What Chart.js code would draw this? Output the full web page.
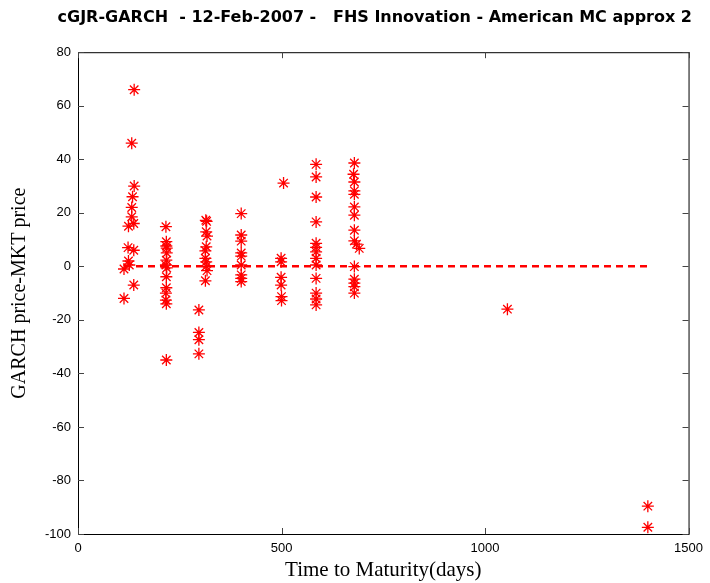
<!DOCTYPE html>
<html>
<head>
<meta charset="utf-8">
<script src="https://cdn.jsdelivr.net/npm/chart.js@4.4.1/dist/chart.umd.min.js"></script>
<style>
  body { margin: 0; background: #fff; }
  canvas { display: block; }
</style>
</head>
<body>
<canvas id="myChart" width="710" height="583"></canvas>
<script>
// time to maturity (days) and GARCH price - MKT price
let maturity = [
    113, 113, 123, 124, 124, 126, 132, 132, 132, 134, 137, 137, 137, 138, 138,
    216, 217, 217, 218, 218, 217, 216, 218, 217, 217, 216, 216, 217, 217,
    297, 297, 297, 297,
    314, 316, 315, 317, 315, 313, 313, 315, 315, 317, 313,
    401, 401, 401, 401, 401, 401, 401, 401, 401,
    505, 499, 499, 499, 499, 500, 500,
    585, 585, 585, 585, 585, 585, 585, 585, 585, 585, 585, 585, 585,
    679, 677, 679, 679, 679, 679, 679, 679, 679, 684, 691, 679, 679, 679, 679, 679,
    1055,
    1400, 1400
];
let priceDiff = [
    -12, -1, 7, 15, 2, 0.5, 46, 22, 18.5, 26, 16, 6, -7, 66, 30,
    14.8, 9.2, 7.6, 6.8, 5, 2.3, 0.5, -0.6, -3.9, -8, -10, -12.6, -14, -35,
    -16.3, -24.7, -27.4, -32.7,
    17.2, 16.8, 12.9, 11.3, 7.3, 5.8, 3, 1.7, 0, -1.6, -5.4,
    19.7, 11.7, 9.4, 5, 3.8, 0.5, -3.2, -4.5, -5.7,
    31.1, 3, 1.7, -4.1, -7, -11.3, -12.8,
    38.1, 33.4, 25.9, 16.6, 8.6, 7.1, 5.4, 3, 0.5, -4.5, -10, -12.2, -14.4,
    38.6, 34.4, 31.5, 28.2, 26.9, 22.2, 19.1, 13.5, 9.5, 8.3, 6.7, -0.1, -4.8, -6.3, -7.6, -10,
    -16,
    -89.6, -97.5
];
let xTicks = [0, 500, 1000, 1500];
let yTicks = [-100, -80, -60, -40, -20, 0, 20, 40, 60, 80];

function drawChart() {
    let ctx = document.getElementById('myChart').getContext('2d');
    let points = [];
    for (let i = 0; i < maturity.length; i++) {
        points.push({ x: maturity[i], y: priceDiff[i] });
    }
    // zero line across the maturities
    let zeroLine = [
        { x: Math.min(...maturity), y: 0 },
        { x: Math.max(...maturity), y: 0 }
    ];

    // matlab style box with inward ticks on all sides
    let boxPlugin = {
        id: 'box',
        afterDraw(chart) {
            let c = chart.ctx;
            let a = chart.chartArea;
            let xs = chart.scales.x, ys = chart.scales.y;
            c.save();
            c.strokeStyle = '#000';
            c.lineWidth = 1;
            c.strokeRect(a.left + 0.5, a.top + 0.5, a.right - a.left, a.bottom - a.top);
            c.strokeStyle = '#444';
            c.beginPath();
            xTicks.forEach(v => {
                let px = Math.round(xs.getPixelForValue(v)) + 0.5;
                c.moveTo(px, a.bottom); c.lineTo(px, a.bottom - 6);
                c.moveTo(px, a.top); c.lineTo(px, a.top + 6);
            });
            yTicks.forEach(v => {
                let py = Math.round(ys.getPixelForValue(v)) + 0.5;
                c.moveTo(a.left, py); c.lineTo(a.left + 6, py);
                c.moveTo(a.right, py); c.lineTo(a.right - 6, py);
            });
            c.stroke();
            c.restore();
        }
    };

    let config = {
        type: 'scatter',
        data: {
            datasets: [{
                label: 'zero',
                type: 'line',
                data: zeroLine,
                borderColor: '#ff0000',
                borderWidth: 2.5,
                borderDash: [7, 5],
                pointRadius: 0,
                fill: false
            }, {
                label: 'GARCH - MKT',
                data: points,
                pointStyle: 'star',
                pointRadius: 6,
                borderColor: '#ff0000',
                backgroundColor: '#ff0000',
                borderWidth: 1.3
            }]
        },
        options: {
            responsive: false,
            animation: false,
            layout: { padding: { left: 0, right: 18, top: 0, bottom: 0 } },
            plugins: {
                legend: { display: false },
                tooltip: { enabled: false },
                title: {
                    display: true,
                    text: 'cGJR-GARCH  - 12-Feb-2007 -   FHS Innovation - American MC approx 2',
                    align: 'end',
                    color: '#000',
                    font: { family: 'DejaVu Sans', size: 16, weight: 'bold' },
                    padding: { top: 8, bottom: 25 }
                }
            },
            scales: {
                x: {
                    type: 'linear',
                    min: 0,
                    max: 1500,
                    afterBuildTicks: s => { s.ticks = xTicks.map(v => ({ value: v })); },
                    afterFit: s => { s.height = 49; },
                    grid: { display: false, drawTicks: false },
                    border: { display: false },
                    ticks: {
                        color: '#000',
                        padding: 7,
                        maxRotation: 0,
                        font: { family: 'Liberation Sans', size: 13 },
                        callback: v => String(v)
                    },
                    title: {
                        display: true,
                        text: 'Time to Maturity(days)',
                        color: '#000',
                        font: { family: 'Liberation Serif', size: 21 },
                        padding: { top: 0, bottom: 0 }
                    }
                },
                y: {
                    type: 'linear',
                    min: -100,
                    max: 80,
                    afterBuildTicks: s => { s.ticks = yTicks.map(v => ({ value: v })); },
                    afterFit: s => { s.width = 78; },
                    grid: { display: false, drawTicks: false },
                    border: { display: false },
                    ticks: {
                        color: '#000',
                        padding: 7,
                        font: { family: 'Liberation Sans', size: 13 },
                        callback: v => String(v)
                    },
                    title: {
                        display: true,
                        text: 'GARCH price-MKT price',
                        color: '#000',
                        font: { family: 'Liberation Serif', size: 20 },
                        padding: { top: 8, bottom: 0 }
                    }
                }
            }
        },
        plugins: [boxPlugin]
    };
    let myChart = new Chart(ctx, config);
}

drawChart();
</script>
</body>
</html>
